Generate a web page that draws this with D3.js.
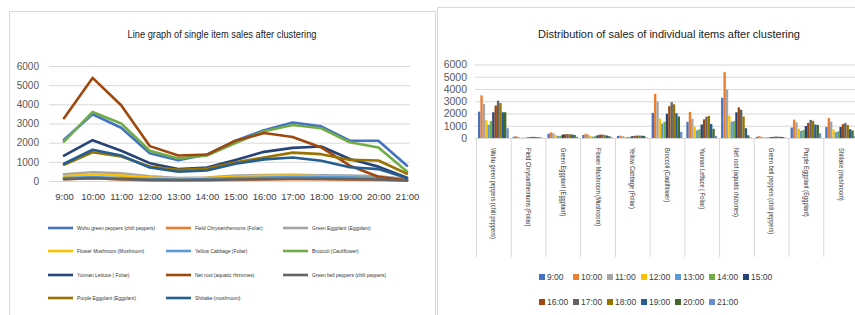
<!DOCTYPE html>
<html>
<head>
<meta charset="utf-8">
<script src="https://cdn.jsdelivr.net/npm/d3@7"></script>
<style>
  body { margin: 0; background: #fff; }
  svg { display: block; }
  .narrow { font-family: "Liberation Sans Narrow", "Arial Narrow", "Liberation Sans", sans-serif; }
  .plain { font-family: "Liberation Sans", Arial, sans-serif; }
</style>
</head>
<body>
<div id="chart"></div>
<script>
// Sales per item, per hour

const hours = ["9:00", "10:00", "11:00", "12:00", "13:00", "14:00", "15:00",
               "16:00", "17:00", "18:00", "19:00", "20:00", "21:00"];

const items = ["Wuhu green peppers (chili peppers)", "Field Chrysanthemums (Foliar)",
               "Green Eggplant (Eggplant)", "Flower Mushroom (Mushroom)",
               "Yellow Cabbage (Foliar)", "Broccoli (Cauliflower)",
               "Yunnan Lettuce ( Foliar)", "Net root (aquatic rhizomes)",
               "Green bell peppers (chili peppers)", "Purple Eggplant (Eggplant)",
               "Shiitake (mushroom)"];

const wuhuGreenPeppers    = [2150, 3480, 2780, 1450, 1080, 1380, 2100, 2650, 3050, 2850, 2100, 2100, 800];
const fieldChrysanthemums = [100, 150, 80, 30, 20, 30, 50, 80, 100, 90, 70, 50, 20];
const greenEggplant       = [350, 460, 400, 250, 160, 180, 280, 310, 320, 300, 290, 250, 100];
const flowerMushroom      = [250, 350, 280, 180, 110, 150, 220, 270, 280, 250, 200, 150, 60];
const yellowCabbage       = [160, 200, 150, 100, 80, 100, 150, 180, 200, 200, 190, 170, 50];
const broccoli            = [2050, 3600, 3000, 1580, 1180, 1330, 1980, 2600, 2920, 2750, 2020, 1750, 500];
const yunnanLettuce       = [1320, 2130, 1580, 930, 630, 700, 1100, 1520, 1730, 1800, 1150, 750, 170];
const netRoot             = [3280, 5380, 3950, 1820, 1330, 1380, 2100, 2500, 2300, 1750, 800, 220, 40];
const greenBellPeppers    = [100, 150, 100, 60, 50, 60, 80, 100, 120, 110, 100, 80, 30];
const purpleEggplant      = [850, 1500, 1280, 760, 580, 650, 980, 1230, 1480, 1400, 1100, 1070, 380];
const shiitake            = [900, 1630, 1330, 700, 480, 550, 900, 1130, 1230, 1060, 720, 620, 150];

const yTicks = [0, 1000, 2000, 3000, 4000, 5000, 6000];

const seriesValues = [wuhuGreenPeppers, fieldChrysanthemums, greenEggplant, flowerMushroom,
                      yellowCabbage, broccoli, yunnanLettuce, netRoot, greenBellPeppers,
                      purpleEggplant, shiitake];

// office palette
const palette = ["#4472C4", "#ED7D31", "#A5A5A5", "#FFC000", "#5B9BD5", "#70AD47",
                 "#264478", "#9E480E", "#636363", "#997300", "#255E91", "#43682B", "#698ED0"];

const W = 855, H = 315;
const gridColor = "#d9d9d9";

// squeeze text horizontally, the original uses a condensed face
function condense(sel, factor) {
    sel.each(function() {
        const len = this.getComputedTextLength();
        d3.select(this)
            .attr("textLength", len * factor)
            .attr("lengthAdjust", "spacingAndGlyphs");
    });
}

const svg = d3.select("#chart").append("svg")
    .attr("width", W)
    .attr("height", H);

// ---------- left: line chart ----------
const left = svg.append("g");

left.append("rect")
    .attr("x", 9.5).attr("y", 11.5)
    .attr("width", 426).attr("height", 400)
    .attr("fill", "#fff")
    .attr("stroke", gridColor);

left.append("text")
    .attr("class", "narrow")
    .attr("x", 222).attr("y", 38)
    .attr("text-anchor", "middle")
    .style("font-size", "11px")
    .attr("fill", "#222")
    .attr("textLength", 189)
    .attr("lengthAdjust", "spacingAndGlyphs")
    .text("Line graph of single item sales after clustering");

const lx = d3.scalePoint().domain(hours).range([64, 407]);
const ly = d3.scaleLinear().domain([0, 6000]).range([181, 66]);

// gridlines
left.append("g")
    .selectAll("line")
    .data(yTicks)
    .join("line")
    .attr("x1", 49).attr("x2", 410)
    .attr("y1", d => ly(d) + 0.5).attr("y2", d => ly(d) + 0.5)
    .attr("stroke", gridColor);

left.append("g")
    .attr("transform", "translate(39,0)")
    .call(d3.axisLeft(ly).tickValues(yTicks).tickFormat(d3.format("d")).tickSize(0).tickPadding(0))
    .call(g => g.select(".domain").remove())
    .selectAll("text")
    .attr("class", "plain")
    .style("font-size", "10px")
    .attr("fill", "#595959");

left.append("g")
    .attr("transform", "translate(0,193)")
    .call(d3.axisBottom(lx).tickSize(0).tickPadding(0))
    .call(g => g.select(".domain").remove())
    .selectAll("text")
    .attr("class", "plain")
    .style("font-size", "9.5px")
    .attr("fill", "#404040");

const line = d3.line()
    .x((d, i) => lx(hours[i]))
    .y(d => ly(d));

left.append("g")
    .selectAll("path")
    .data(seriesValues)
    .join("path")
    .attr("d", line)
    .attr("fill", "none")
    .attr("stroke", (d, i) => palette[i])
    .attr("stroke-width", 2.6)
    .attr("stroke-linejoin", "round")
    .attr("stroke-linecap", "round");

// legend, 3 columns
const legCols = [48, 166, 283];
const legRows = [228, 251, 275, 298];
const leftLegend = left.append("g")
    .selectAll("g")
    .data(items)
    .join("g")
    .attr("transform", (d, i) => `translate(${legCols[i % 3]},${legRows[Math.floor(i / 3)]})`);

leftLegend.append("line")
    .attr("x1", 0).attr("x2", 25)
    .attr("stroke", (d, i) => palette[i])
    .attr("stroke-width", 2.6);

leftLegend.append("text")
    .attr("class", "narrow")
    .attr("x", 29).attr("y", 2)
    .style("font-size", "6px")
    .attr("fill", "#333")
    .text(d => d)
    .call(condense, 0.82);

// ---------- right: grouped bars ----------
const right = svg.append("g");

right.append("rect")
    .attr("x", 437.5).attr("y", 7.5)
    .attr("width", 500).attr("height", 400)
    .attr("fill", "#fff")
    .attr("stroke", gridColor);

right.append("text")
    .attr("class", "plain")
    .attr("x", 669).attr("y", 38)
    .attr("text-anchor", "middle")
    .style("font-size", "11.5px")
    .attr("fill", "#222")
    .attr("textLength", 262)
    .attr("lengthAdjust", "spacingAndGlyphs")
    .text("Distribution of sales of individual items after clustering");

const bx = d3.scaleBand().domain(items).range([476, 858]);
const bxInner = d3.scaleBand().domain(hours).range([2, bx.bandwidth() - 2]);
const by = d3.scaleLinear().domain([0, 6000]).range([138, 64.5]);

right.append("g")
    .selectAll("line")
    .data(yTicks)
    .join("line")
    .attr("x1", 475).attr("x2", 858)
    .attr("y1", d => by(d) + 0.5).attr("y2", d => by(d) + 0.5)
    .attr("stroke", gridColor);

right.append("g")
    .attr("transform", "translate(467,0)")
    .call(d3.axisLeft(by).tickValues(yTicks).tickFormat(d3.format("d")).tickSize(0).tickPadding(0))
    .call(g => g.select(".domain").remove())
    .selectAll("text")
    .attr("class", "plain")
    .style("font-size", "10.5px")
    .attr("fill", "#595959");

// category separators
right.append("g")
    .selectAll("line")
    .data(items.concat(["end"]))
    .join("line")
    .attr("x1", (d, i) => (i < items.length ? bx(d) : bx.range()[1]) + 0.5)
    .attr("x2", (d, i) => (i < items.length ? bx(d) : bx.range()[1]) + 0.5)
    .attr("y1", by(0)).attr("y2", 257)
    .attr("stroke", gridColor);

const groups = right.append("g")
    .selectAll("g")
    .data(items)
    .join("g")
    .attr("transform", d => `translate(${bx(d)},0)`);

groups.selectAll("rect")
    .data((d, i) => hours.map((h, j) => ({ hour: h, j, value: seriesValues[i][j] })))
    .join("rect")
    .attr("x", d => bxInner(d.hour))
    .attr("y", d => by(d.value))
    .attr("width", bxInner.bandwidth())
    .attr("height", d => by(0) - by(d.value))
    .attr("fill", d => palette[d.j]);

// rotated item labels
right.append("g")
    .selectAll("text")
    .data(items)
    .join("text")
    .attr("class", "narrow")
    .attr("transform", d => `translate(${bx(d) + bx.bandwidth() / 2 - 2},148) rotate(90)`)
    .style("font-size", "6.5px")
    .attr("fill", "#333")
    .text(d => d)
    .call(condense, 0.88);

// legend: 7 + 6
const rightLegend = right.append("g")
    .selectAll("g")
    .data(hours)
    .join("g")
    .attr("transform", (d, i) => `translate(${539 + (i % 7) * 34},${i < 7 ? 277 : 302})`);

rightLegend.append("rect")
    .attr("x", 0).attr("y", -3)
    .attr("width", 6).attr("height", 6)
    .attr("fill", (d, i) => palette[i]);

rightLegend.append("text")
    .attr("class", "plain")
    .attr("x", 8).attr("y", 3.2)
    .style("font-size", "8.5px")
    .attr("fill", "#404040")
    .text(d => d);
</script>
</body>
</html>
